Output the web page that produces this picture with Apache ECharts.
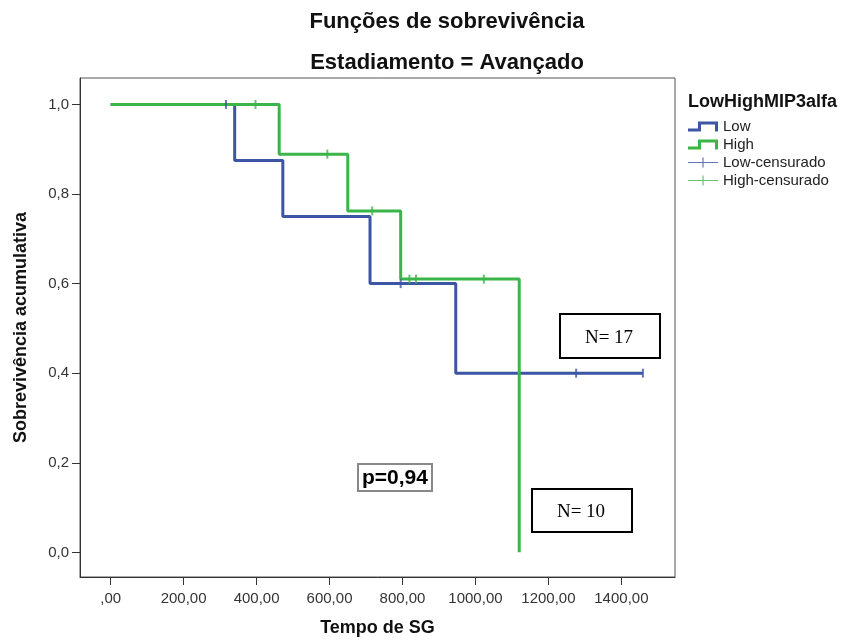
<!DOCTYPE html>
<html>
<head>
<meta charset="utf-8">
<script src="https://cdn.jsdelivr.net/npm/echarts@6/dist/echarts.min.js"></script>
<style>html,body{margin:0;padding:0;background:#fff}#c{width:850px;height:640px}</style>
</head>
<body>
<div id="c"></div>
<script>
// ---- data ----
const lowTimes = [0, 340, 472, 711, 946, 1459];
const lowSurv = [1, 0.875, 0.75, 0.6, 0.4, 0.4];
const highTimes = [0, 462, 650, 795, 1120];
const highSurv = [1, 0.889, 0.762, 0.61, 0];
const lowCensTimes = [316, 795, 1276, 1459];
const lowCensSurv = [1, 0.6, 0.4, 0.4];
const highCensTimes = [397, 594, 717, 819, 837, 1023];
const highCensSurv = [1, 0.889, 0.762, 0.61, 0.61, 0.61];
const xTicks = [0, 200, 400, 600, 800, 1000, 1200, 1400];
const yTicks = [0, 0.2, 0.4, 0.6, 0.8, 1.0];
const seriesNames = ['Low', 'High', 'Low-censurado', 'High-censurado'];
const annotations = ['p=0,94', 'N= 17', 'N= 10'];

const BLUE = '#3d55a5';
const GREEN = '#3bb54a';
const BLUE_L = '#7386c8';
const GREEN_L = '#45c455';
const FONT = 'Liberation Sans, Arial, sans-serif';

const zip = (a, b) => a.map((v, i) => [v, b[i]]);

const stepIcon = 'path://M0,7 L10,7 L10,0 L30,0 L30,10 L27,10 L27,3 L13,3 L13,10 L0,10 Z';
const plusIcon = 'path://M0,4.4 L30,4.4 L30,5.6 L0,5.6 Z M14.4,0 L15.6,0 L15.6,10 L14.4,10 Z';
const tickSym = 'path://M0,0 L1,0 L1,10 L0,10 Z';

const chart = echarts.init(document.getElementById('c'), null, {renderer: 'canvas'});
chart.setOption({
  backgroundColor: '#fff',
  animation: false,
  title: [
    {text: 'Funções de sobrevivência', left: 442, top: 6, textAlign: 'center',
     textStyle: {fontFamily: FONT, fontSize: 22, fontWeight: 'bold', color: '#111'}},
    {text: 'Estadiamento = Avançado', left: 442, top: 47, textAlign: 'center',
     textStyle: {fontFamily: FONT, fontSize: 22, fontWeight: 'bold', color: '#111'}},
    {text: 'LowHighMIP3alfa', left: 683, top: 88,
     textStyle: {fontFamily: FONT, fontSize: 18, fontWeight: 'bold', color: '#111'}}
  ],
  legend: {
    orient: 'vertical', left: 688, top: 119, padding: 0,
    itemWidth: 30, itemHeight: 10, itemGap: 3,
    textStyle: {fontFamily: FONT, fontSize: 15, color: '#222', lineHeight: 12},
    data: [
      {name: seriesNames[0], icon: stepIcon},
      {name: seriesNames[1], icon: stepIcon},
      {name: seriesNames[2], icon: plusIcon},
      {name: seriesNames[3], icon: plusIcon}
    ]
  },
  grid: {left: 80, top: 78, right: 175, bottom: 63, outerBoundsMode: 'none', containLabel: false,
         show: true, borderColor: '#555', borderWidth: 1, backgroundColor: '#fff'},
  xAxis: {
    type: 'value', min: -84, max: 1547,
    name: 'Tempo de SG', nameLocation: 'middle', nameGap: 42,
    nameTextStyle: {fontFamily: FONT, fontSize: 18, fontWeight: 'bold', color: '#111'},
    axisLine: {show: true, onZero: false, lineStyle: {color: '#333', width: 1}},
    axisTick: {show: true, length: 8, customValues: xTicks, lineStyle: {color: '#333'}},
    axisLabel: {customValues: xTicks, margin: 14, fontFamily: FONT, fontSize: 15, color: '#333',
      formatter: v => (v === 0 ? '' : String(v)) + ',00'},
    splitLine: {show: false}
  },
  yAxis: {
    type: 'value', min: -0.055, max: 1.059,
    name: 'Sobrevivência acumulativa', nameLocation: 'middle', nameGap: 50,
    nameTextStyle: {fontFamily: FONT, fontSize: 18, fontWeight: 'bold', color: '#111'},
    axisLine: {show: true, onZero: false, lineStyle: {color: '#333', width: 1}},
    axisTick: {show: true, length: 8, customValues: yTicks, lineStyle: {color: '#333'}},
    axisLabel: {customValues: yTicks, margin: 11, fontFamily: FONT, fontSize: 15, color: '#333',
      formatter: v => v.toFixed(1).replace('.', ',')},
    splitLine: {show: false}
  },
  series: [
    {name: seriesNames[0], type: 'line', step: 'end', data: zip(lowTimes, lowSurv),
     showSymbol: false, symbol: 'none', color: BLUE, lineStyle: {color: BLUE, width: 3}, z: 2},
    {name: seriesNames[1], type: 'line', step: 'end', data: zip(highTimes, highSurv),
     showSymbol: false, symbol: 'none', color: GREEN, lineStyle: {color: GREEN, width: 3}, z: 3},
    {name: seriesNames[2], type: 'scatter', data: zip(lowCensTimes, lowCensSurv),
     symbol: tickSym, symbolSize: [2, 9], color: BLUE_L, itemStyle: {color: BLUE}, z: 4},
    {name: seriesNames[3], type: 'scatter', data: zip(highCensTimes, highCensSurv),
     symbol: tickSym, symbolSize: [2, 9], color: GREEN_L, itemStyle: {color: GREEN}, z: 4}
  ],
  graphic: [
    {type: 'group', left: 357, top: 463, children: [
      {type: 'rect', shape: {x: 0, y: 0, width: 74, height: 27}, style: {fill: '#fff', stroke: '#888', lineWidth: 2}},
      {type: 'text', x: 37, y: 14, style: {text: annotations[0], textAlign: 'center', textVerticalAlign: 'middle',
        font: 'bold 21px Liberation Sans, Arial, sans-serif', fill: '#000'}}
    ]},
    {type: 'group', left: 559, top: 313, children: [
      {type: 'rect', shape: {x: 0, y: 0, width: 100, height: 44}, style: {fill: '#fff', stroke: '#000', lineWidth: 2}},
      {type: 'text', x: 49, y: 24, style: {text: annotations[1], textAlign: 'center', textVerticalAlign: 'middle',
        font: '19px Liberation Serif, Times New Roman, serif', fill: '#000'}}
    ]},
    {type: 'group', left: 531, top: 488, children: [
      {type: 'rect', shape: {x: 0, y: 0, width: 100, height: 43}, style: {fill: '#fff', stroke: '#000', lineWidth: 2}},
      {type: 'text', x: 49, y: 23, style: {text: annotations[2], textAlign: 'center', textVerticalAlign: 'middle',
        font: '19px Liberation Serif, Times New Roman, serif', fill: '#000'}}
    ]}
  ]
});
</script>
</body>
</html>
